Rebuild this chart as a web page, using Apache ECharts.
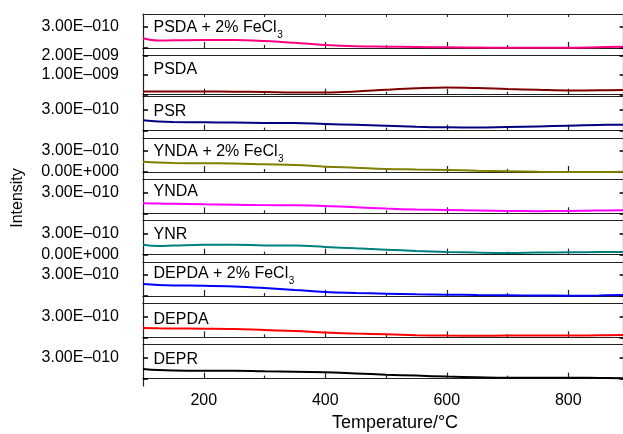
<!DOCTYPE html>
<html>
<head>
<meta charset="utf-8">
<script src="https://cdn.jsdelivr.net/npm/echarts@6/dist/echarts.min.js"></script>
<style>html,body{margin:0;padding:0;background:#fff}#c{width:623px;height:434px}</style>
</head>
<body>
<div id="c"></div>
<script>
// Temperature (°C) sample points
const temps = [100, 125, 150, 200, 250, 300, 350, 400, 450, 500, 550, 600, 650, 700, 750, 800, 850, 890];
// Series labels (top to bottom)
const names = ['PSDA + 2% FeCl', 'PSDA', 'PSR', 'YNDA + 2% FeCl', 'YNDA', 'YNR', 'DEPDA + 2% FeCl', 'DEPDA', 'DEPR'];
const subscripts = ['3', '', '', '3', '', '', '3', '', ''];
// Intensity values in units of 1E-010
const psdaFe  = [1.39, 1.07, 1.10, 1.14, 1.14, 1.00, 0.74, 0.43, 0.24, 0.19, 0.14, 0.10, 0.07, 0.04, 0.04, 0.04, 0.11, 0.17];
const psda    = [1.65, 1.62, 1.62, 1.60, 1.50, 1.35, 1.15, 1.15, 1.60, 2.50, 3.25, 3.65, 3.40, 2.90, 2.50, 2.15, 2.25, 2.35];
const psr     = [1.47, 1.31, 1.24, 1.19, 1.16, 1.11, 1.10, 0.96, 0.83, 0.71, 0.57, 0.47, 0.46, 0.53, 0.61, 0.71, 0.81, 0.86];
const yndaFe  = [1.47, 1.36, 1.29, 1.24, 1.21, 1.10, 1.00, 0.76, 0.60, 0.43, 0.36, 0.29, 0.19, 0.10, 0.03, 0.00, 0.00, 0.03];
const ynda    = [1.43, 1.40, 1.36, 1.29, 1.24, 1.17, 1.14, 1.04, 0.86, 0.67, 0.54, 0.47, 0.39, 0.33, 0.31, 0.33, 0.39, 0.43];
const ynr     = [1.43, 1.24, 1.29, 1.40, 1.43, 1.31, 1.29, 1.10, 0.90, 0.71, 0.53, 0.39, 0.29, 0.24, 0.29, 0.33, 0.36, 0.39];
const depdaFe = [1.71, 1.57, 1.50, 1.47, 1.36, 1.14, 0.86, 0.57, 0.43, 0.33, 0.24, 0.19, 0.14, 0.10, 0.07, 0.04, 0.07, 0.14];
const depda   = [1.33, 1.29, 1.26, 1.24, 1.19, 1.04, 0.90, 0.67, 0.53, 0.43, 0.31, 0.24, 0.21, 0.24, 0.24, 0.24, 0.29, 0.33];
const depr    = [1.39, 1.24, 1.17, 1.14, 1.14, 1.04, 1.00, 0.90, 0.74, 0.57, 0.43, 0.29, 0.20, 0.14, 0.14, 0.14, 0.09, 0.04];
const seriesValues = [psdaFe, psda, psr, yndaFe, ynda, ynr, depdaFe, depda, depr];
const colors = ['#FF0080', '#800000', '#000080', '#808000', '#FF00FF', '#008080', '#0000FF', '#FF0000', '#000000'];
// Y tick values / labelled ticks per panel (units of 1E-010)
const yTicks  = [[0, 3], [0, 10, 20], [0, 3], [0, 3], [0, 3], [0, 3], [0, 3], [0, 3], [0, 3]];
const yLabels = [[3], [10, 20], [3], [0, 3], [3], [0, 3], [3], [3], [3]];
const yRanges = [[-1.05, 4.86], [-1, 20], [-1.05, 4.86], [-1.05, 4.86], [-1.05, 4.86], [-1.05, 4.86], [-1.05, 4.86], [-1.05, 4.86], [-1.05, 4.86]];
// X ticks
const xMajor = [200, 400, 600, 800];
const xMinor = [300, 500, 700];

const FONT = '"Liberation Sans", Arial, sans-serif';
const AX = '#222';

function sci(u) {
  const v = u * 1e-10;
  if (Math.abs(v) < 1e-30) return '0.00E+000';
  const e = Math.floor(Math.log10(Math.abs(v)) + 1e-9);
  const m = (v / Math.pow(10, e)).toFixed(2);
  const es = String(Math.abs(e)).padStart(3, '0');
  return m + 'E' + (e < 0 ? '\u2013' : '+') + es;
}

const chart = echarts.init(document.getElementById('c'), null, {renderer: 'canvas'});
const top0 = 14, H = 41.33, L = 143;
const grid = [], xAxis = [], yAxis = [], series = [], graphic = [];
const ctx = document.createElement('canvas').getContext('2d');
ctx.font = '16px ' + FONT;

for (let i = 0; i < 9; i++) {
  const top = top0 + i * H;
  grid.push({left: L, right: 0, top: top, height: H, outerBoundsMode: 'none'});
  xAxis.push({
    type: 'value', gridIndex: i, min: 100, max: 890, position: 'bottom',
    axisLine: {show: true, lineStyle: {color: AX, width: 1.2}},
    axisTick: {show: true, inside: true, length: 6, customValues: xMajor, lineStyle: {color: AX, width: 1.2}},
    axisLabel: {show: i === 8, customValues: xMajor, fontSize: 16, margin: 7, color: '#000', fontFamily: FONT},
    splitLine: {show: false}
  });
  xAxis.push({
    type: 'value', gridIndex: i, min: 100, max: 890, position: 'bottom',
    axisLine: {show: false},
    axisTick: {show: true, inside: true, length: 3, customValues: xMinor, lineStyle: {color: AX, width: 1.2}},
    axisLabel: {show: false}, splitLine: {show: false}
  });
  xAxis.push({
    type: 'value', gridIndex: i, min: 100, max: 890, position: 'top',
    axisLine: {show: true, lineStyle: {color: AX, width: 1.2}},
    axisTick: {show: i === 0, inside: true, length: 3, customValues: xMajor.concat(xMinor), lineStyle: {color: AX, width: 1}},
    axisLabel: {show: false}, splitLine: {show: false}
  });
  yAxis.push({
    type: 'value', gridIndex: i, min: yRanges[i][0], max: yRanges[i][1], position: 'left',
    axisLine: {show: true, lineStyle: {color: AX, width: 1.2}},
    axisTick: {show: true, inside: true, length: 5, customValues: yTicks[i], lineStyle: {color: '#000', width: 1.5}},
    axisLabel: {show: true, customValues: yLabels[i], formatter: sci, fontSize: 16, margin: 24, color: '#000', fontFamily: FONT},
    splitLine: {show: false}
  });
  yAxis.push({
    type: 'value', gridIndex: i, min: yRanges[i][0], max: yRanges[i][1], position: 'right',
    axisLine: {show: true, lineStyle: {color: AX, width: 1.2}},
    axisTick: {show: true, inside: true, length: 3.5, customValues: yTicks[i], lineStyle: {color: '#000', width: 1.5}},
    axisLabel: {show: false}, splitLine: {show: false}
  });
  series.push({
    type: 'line', name: names[i] + subscripts[i], xAxisIndex: 3 * i, yAxisIndex: 2 * i,
    data: temps.map((t, k) => [t, seriesValues[i][k]]),
    smooth: 0.4, showSymbol: false, symbol: 'none',
    lineStyle: {color: colors[i], width: 2}, itemStyle: {color: colors[i]},
    z: 3
  });
}

// panel labels (centre y positions relative to panel top)
const labelOffsets = [14, 14, 14.5, 13.5, 12.5, 14, 12, 16, 14.5];
for (let i = 0; i < 9; i++) {
  const cy = top0 + i * H + labelOffsets[i];
  const x0 = 153.5;
  graphic.push({type: 'text', x: x0, y: cy, z: 10,
    style: {text: names[i], font: '16px ' + FONT, fill: '#000', verticalAlign: 'middle', align: 'left'}});
  if (subscripts[i]) {
    const w = ctx.measureText(names[i]).width;
    graphic.push({type: 'text', x: x0 + w + 0.5, y: cy + 7.5, z: 10,
      style: {text: subscripts[i], font: '10px ' + FONT, fill: '#000', verticalAlign: 'middle', align: 'left'}});
  }
}
graphic.push({type: 'text', x: 18, y: 198, rotation: Math.PI / 2, z: 10,
  style: {text: 'Intensity', font: '16px ' + FONT, fill: '#000', align: 'center', verticalAlign: 'middle'}});
graphic.push({type: 'text', x: 395, y: 423, z: 10,
  style: {text: 'Temperature/°C', font: '18px ' + FONT, fill: '#000', align: 'center', verticalAlign: 'middle'}});

chart.setOption({
  animation: false,
  backgroundColor: '#fff',
  grid, xAxis, yAxis, series, graphic
});
</script>
</body>
</html>
